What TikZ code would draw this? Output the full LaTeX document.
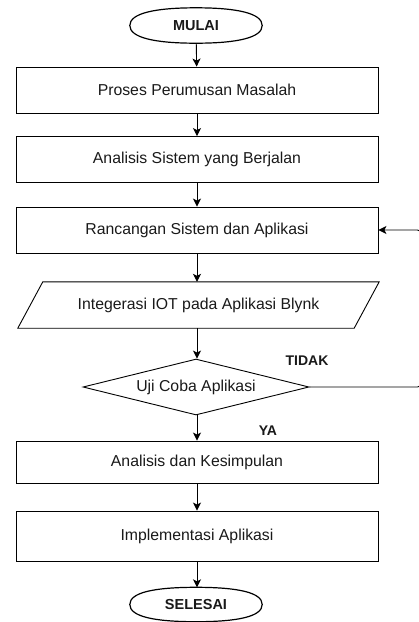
\documentclass[tikz,border=0pt]{standalone}
\usepackage{fontspec}
\setmainfont{Liberation Sans}
\usetikzlibrary{shapes.geometric,arrows.meta}
\begin{document}
\begin{tikzpicture}[x=1pt,y=-1pt,
  every node/.style={font=\fontsize{15.8}{18}\selectfont, text=black!90},
  procbox/.style={draw, line width=0.9pt, minimum width=362pt, inner sep=0pt, anchor=center},
  termbox/.style={minimum width=132pt, minimum height=35pt, inner sep=0pt, font=\fontsize{14.5}{16}\selectfont\bfseries},
  termline/.style={line width=1.2pt},
  lbl/.style={font=\fontsize{14}{16}\selectfont\bfseries},
  arr/.style={draw, line width=0.9pt, -{Stealth[length=8pt,width=8pt,inset=2pt]}}]
\useasboundingbox (0,0) rectangle (419,622);
\node[termbox] (mulai) at (196,25.5) {MULAI};
\draw[termline] (mulai.west) .. controls +(0,-12) and +(-42,0) .. (mulai.north) .. controls +(42,0) and +(0,-12) .. (mulai.east) .. controls +(0,12) and +(42,0) .. (mulai.south) .. controls +(-42,0) and +(0,12) .. (mulai.west) -- cycle;
\node[procbox, minimum height=46pt] (b1) at (197,90) {Proses Perumusan Masalah};
\node[procbox, minimum height=46pt] (b2) at (197,159.5) {Analisis Sistem yang Berjalan};
\node[procbox, minimum height=46pt] (b3) at (197,230) {Rancangan Sistem dan Aplikasi};
\node[minimum width=336pt, minimum height=46pt, inner sep=0pt] (io) at (198.5,305) {Integerasi IOT pada Aplikasi Blynk};
\draw[line width=0.9pt] ([xshift=12.5pt]io.north west) -- ([xshift=12.5pt]io.north east) -- ([xshift=-12.5pt]io.south east) -- ([xshift=-12.5pt]io.south west) -- cycle;
\node[draw, line width=0.9pt, diamond, aspect=4, inner sep=0pt, minimum width=226pt, minimum height=56pt] (dia) at (196,387) {Uji Coba Aplikasi};
\node[procbox, minimum height=42pt] (b4) at (197,462) {Analisis dan Kesimpulan};
\node[procbox, minimum height=50pt] (b5) at (197,536) {Implementasi Aplikasi};
\node[termbox, minimum height=34pt] (selesai) at (196,604.5) {SELESAI};
\draw[termline] (selesai.west) .. controls +(0,-12) and +(-42,0) .. (selesai.north) .. controls +(42,0) and +(0,-12) .. (selesai.east) .. controls +(0,12) and +(42,0) .. (selesai.south) .. controls +(-42,0) and +(0,12) .. (selesai.west) -- cycle;
\node[lbl] (tidak) at (307,361) {TIDAK};
\node[lbl] (ya) at (268,431) {YA};
\draw[arr] (mulai) -- (b1);
\draw[arr] (b1) -- (b2);
\draw[arr] (b2) -- (b3);
\draw[arr] (b3.south) -- (b3.south |- io.north);
\draw[arr] (io.south -| b3.south) -- (b3.south |- dia.north);
\draw[arr] (b3.south |- dia.south) -- (b4.north);
\draw[arr] (b4) -- (b5);
\draw[arr] (b5.south) -- (b5.south |- selesai.north);
\draw[arr, rounded corners=5pt] (dia.east) -- ++(113,0) |- (b3.east);
\end{tikzpicture}
\end{document}
